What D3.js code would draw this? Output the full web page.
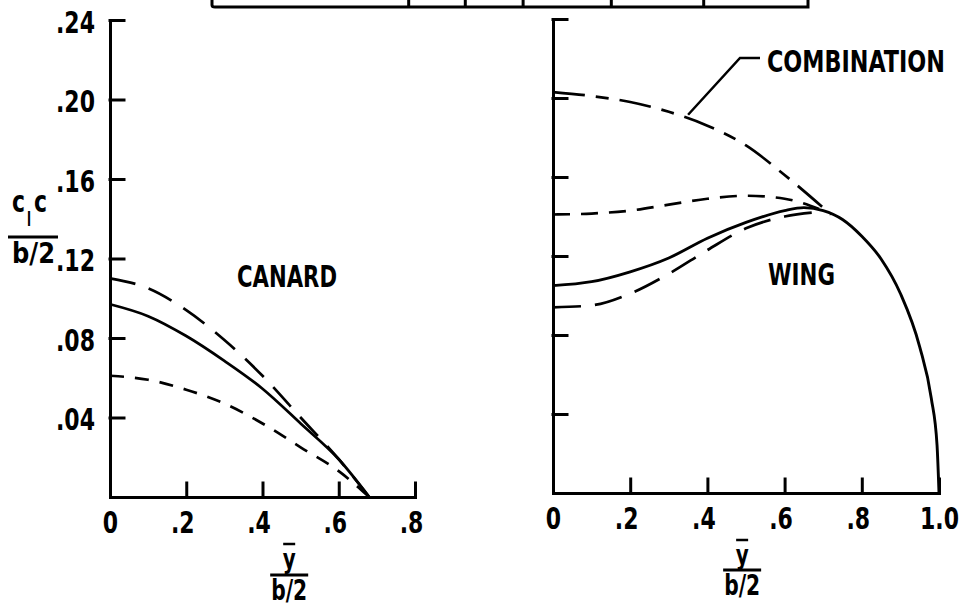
<!DOCTYPE html>
<html>
<head>
<meta charset="utf-8">
<script src="https://cdn.jsdelivr.net/npm/d3@7"></script>
<style>
  body { margin: 0; background: #fff; }
  svg { display: block; }
  text { font-family: "Liberation Sans Narrow", "DejaVu Sans Condensed", "Arial Narrow", sans-serif; font-weight: bold; fill: #000; }
</style>
</head>
<body>
<svg id="chart" width="966" height="605"></svg>
<script>
// spanwise load distributions: [y/(b/2), c_l c/(b/2)]
var canardSolid = [[0, 0.097], [0.1, 0.091], [0.2, 0.081], [0.3, 0.0685], [0.4, 0.0545], [0.5, 0.037], [0.6, 0.019], [0.68, 0]];
var canardLongDash = [[0, 0.110], [0.1, 0.105], [0.2, 0.094], [0.3, 0.079], [0.4, 0.061], [0.5, 0.040], [0.6, 0.019], [0.68, 0]];
var canardShortDash = [[0, 0.061], [0.1, 0.059], [0.2, 0.054], [0.3, 0.047], [0.4, 0.037], [0.5, 0.025], [0.6, 0.013], [0.68, 0]];

var wingSolid = [[0, 0.105], [0.1, 0.107], [0.2, 0.112], [0.3, 0.119], [0.4, 0.129], [0.5, 0.137], [0.6, 0.143], [0.65, 0.1445],
  [0.7, 0.143], [0.75, 0.1385], [0.8, 0.130], [0.85, 0.1185], [0.9, 0.101], [0.95, 0.074], [0.98, 0.048], [0.995, 0.024], [1.0, 0]];
var wingLongDash = [[0, 0.094], [0.1, 0.095], [0.2, 0.101], [0.3, 0.111], [0.4, 0.123], [0.5, 0.134], [0.6, 0.140], [0.7, 0.1425]];
var wingShortDash = [[0, 0.141], [0.1, 0.1415], [0.2, 0.143], [0.3, 0.146], [0.4, 0.149], [0.5, 0.1505], [0.6, 0.149], [0.7, 0.143]];
var combination = [[0, 0.203], [0.1, 0.201], [0.2, 0.198], [0.3, 0.193], [0.4, 0.186], [0.5, 0.176], [0.6, 0.161], [0.72, 0.141]];

var yTicks = [0.04, 0.08, 0.12, 0.16, 0.20, 0.24];
var yTickLabels = [".04", ".08", ".12", ".16", ".20", ".24"];
var canardXTicks = [0, 0.2, 0.4, 0.6, 0.8];
var canardXLabels = ["0", ".2", ".4", ".6", ".8"];
var wingXTicks = [0, 0.2, 0.4, 0.6, 0.8, 1.0];
var wingXLabels = ["0", ".2", ".4", ".6", ".8", "1.0"];

var svg = d3.select("#chart");

// the lettering in the scan is tall and narrow, so squeeze the installed font to match
var probe = svg.append("text").attr("font-size", 30).text(".20");
var squeeze = 39 / probe.node().getComputedTextLength();
probe.remove();
var narrow = function(sel) {
  sel.each(function() {
    var w = this.getComputedTextLength();
    d3.select(this).attr("textLength", w * squeeze).attr("lengthAdjust", "spacingAndGlyphs");
  });
};
var fit = function(sel, w) {
  sel.attr("textLength", w).attr("lengthAdjust", "spacingAndGlyphs");
};

// the cropped table at the top of the page
var tableDividers = [0.33, 0.425, 0.522, 0.67, 0.825];
var tableLeft = 212, tableRight = 808, tableBottom = 7;
var tbl = svg.append("g").attr("stroke", "#000").attr("fill", "none").attr("stroke-width", 3);
tbl.append("path").attr("d", "M" + tableLeft + ",0 L" + tableLeft + "," + (tableBottom - 2) +
  " Q" + tableLeft + "," + tableBottom + " " + (tableLeft + 3) + "," + tableBottom +
  " L" + tableRight + "," + tableBottom + " L" + tableRight + ",0");
tbl.selectAll("line.div").data(tableDividers).enter().append("line")
  .attr("x1", function(d) { return tableLeft + d * (tableRight - tableLeft); })
  .attr("x2", function(d) { return tableLeft + d * (tableRight - tableLeft); })
  .attr("y1", 0).attr("y2", tableBottom);

var line = function(x, y) {
  return d3.line().x(function(d) { return x(d[0]); }).y(function(d) { return y(d[1]); }).curve(d3.curveMonotoneX);
};

var drawPanel = function(opts) {
  var x = d3.scaleLinear().domain(opts.xDomain).range(opts.xRange);
  var y = d3.scaleLinear().domain([0, 0.24]).range(opts.yRange);
  var g = svg.append("g");

  var yAxis = d3.axisLeft(y).tickValues(yTicks).tickSizeInner(-14).tickSizeOuter(0).tickPadding(15)
    .tickFormat(function(d, i) { return opts.yLabels ? yTickLabels[i] : ""; });
  var ya = g.append("g").attr("transform", "translate(" + opts.xRange[0] + ",0)").call(yAxis);
  ya.selectAll("text").attr("font-size", 30).attr("dy", "0.4em").call(narrow);

  var xAxis = d3.axisBottom(x).tickValues(opts.xTicks).tickSizeInner(-14).tickSizeOuter(0)
    .tickFormat(function(d, i) { return opts.xLabels[i]; });
  var xa = g.append("g").attr("transform", "translate(0," + opts.yRange[0] + ")").call(xAxis);
  xa.selectAll("text").attr("font-size", 30).attr("dy", 0).attr("y", 36)
    .attr("dx", function(d, i) { return opts.xLabels[i].charAt(0) === "." ? -4 : 0; })
    .call(narrow);

  g.selectAll(".domain, .tick line").attr("stroke", "#000").attr("stroke-width", 3).attr("stroke-linecap", "square");
  g.selectAll(".tick").filter(function(d) { return d === 0; }).select("line").remove();

  opts.series.forEach(function(s) {
    g.append("path").datum(s.data)
      .attr("d", line(x, y))
      .attr("fill", "none").attr("stroke", "#000")
      .attr("stroke-width", s.width || 2.7)
      .attr("stroke-dasharray", s.dash || null);
  });

  // axis title: y-bar over b/2
  var cx = x(opts.titleAt), ty = opts.yRange[0];
  var t = g.append("g");
  t.append("text").attr("x", cx).attr("y", ty + 71).attr("text-anchor", "middle").attr("font-size", 27).text("y").call(fit, 13);
  t.append("line").attr("x1", cx - 6).attr("x2", cx + 6).attr("y1", ty + 47).attr("y2", ty + 47).attr("stroke", "#000").attr("stroke-width", 2.5);
  t.append("line").attr("x1", cx - 19).attr("x2", cx + 19).attr("y1", ty + opts.barOff).attr("y2", ty + opts.barOff).attr("stroke", "#000").attr("stroke-width", 3);
  t.append("text").attr("x", cx).attr("y", ty + opts.barOff + 25).attr("text-anchor", "middle").attr("font-size", 28).text("b/2").call(fit, 36);

  return {x: x, y: y, g: g};
};

var canard = drawPanel({
  xDomain: [0, 0.8], xRange: [110, 415], yRange: [497, 20],
  xTicks: canardXTicks, xLabels: canardXLabels, yLabels: true, titleAt: 0.47, barOff: 78,
  series: [
    {data: canardLongDash, dash: "26 14"},
    {data: canardSolid},
    {data: canardShortDash, dash: "14 11"}
  ]
});

var wing = drawPanel({
  xDomain: [0, 1.0], xRange: [553, 939], yRange: [493, 19],
  xTicks: wingXTicks, xLabels: wingXLabels, yLabels: false, titleAt: 0.49, barOff: 77,
  series: [
    {data: combination, dash: "32 11 13 11"},
    {data: wingShortDash, dash: "17 11"},
    {data: wingLongDash, dash: "28 14"},
    {data: wingSolid, width: 2.9}
  ]
});

// panel labels
canard.g.append("text").attr("x", 237).attr("y", 287).attr("font-size", 30).text("CANARD").call(fit, 100);
wing.g.append("text").attr("x", 768).attr("y", 285).attr("font-size", 30).text("WING").call(fit, 67);
wing.g.append("text").attr("x", 767).attr("y", 72).attr("font-size", 30).text("COMBINATION").call(fit, 178);

// leader from the COMBINATION label to its curve
var leaderAt = 0.35;
var leaderY = d3.scaleLinear().domain(combination.map(function(d) { return d[0]; })).range(combination.map(function(d) { return d[1]; }));
wing.g.append("path")
  .attr("d", "M760,58 L740,58 L" + wing.x(leaderAt) + "," + (wing.y(leaderY(leaderAt)) - 4))
  .attr("fill", "none").attr("stroke", "#000").attr("stroke-width", 2.5);

// ordinate title: c_l c over b/2
var yt = svg.append("g");
yt.append("text").attr("x", 12).attr("y", 212).attr("font-size", 30).text("c").call(fit, 13);
yt.append("text").attr("x", 27).attr("y", 226).attr("font-size", 20).text("l").call(fit, 4);
yt.append("text").attr("x", 34).attr("y", 212).attr("font-size", 30).text("c").call(fit, 13);
yt.append("line").attr("x1", 8).attr("x2", 58).attr("y1", 237).attr("y2", 237).attr("stroke", "#000").attr("stroke-width", 3);
yt.append("text").attr("x", 12).attr("y", 263).attr("font-size", 29).text("b/2").call(fit, 43);
</script>
</body>
</html>
